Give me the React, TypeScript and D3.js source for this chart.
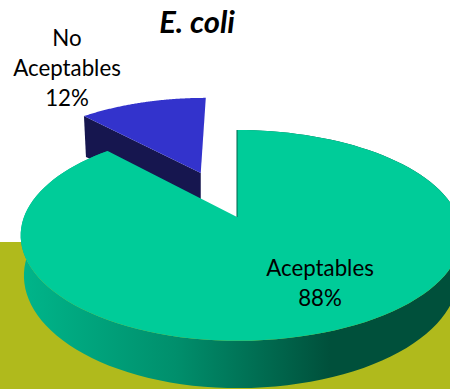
import React from "react";
import * as d3 from "d3";

const categories = ["Aceptables", "No Aceptables"];
const values = [88, 12];
const labelLines = [["Aceptables", "88%"], ["No", "Aceptables", "12%"]];
const explode = [0, 0.5];
const colors = { green: "#00CC99", blue: "#3333CC", navy: "#16164F", ground: "#B0BA1C" };

const W = 450, H = 389;
const CX = 237, CY = 217, R_LEFT = 213, R_RIGHT = 221, A = 64.2, K = -0.175, DEPTH = 39, SHRINK = 0.985;

// Perspective projection of the pie's plane onto the page.
function project(u: number, v: number, low = false): [number, number] {
  const d = 1 + K * v;
  const s = low ? SHRINK : 1;
  const r = u < 0 ? R_LEFT : R_RIGHT;
  const x = CX + ((r * u) / d) * s;
  const y = (A * v + CY) / d + (low ? DEPTH / d : 0);
  return [x, y];
}

const pie = d3.pie<number>().sort(null).startAngle(0).endAngle(2 * Math.PI);
const arcs = pie(values);
const line = d3.line();

function rim(a0: number, a1: number, e: number, low = false) {
  const mid = e ? (a0 + a1) / 2 : 0;
  const ox = e * Math.sin(mid), oy = -e * Math.cos(mid);
  const steps = d3.range(0, 121).map((i) => a0 + ((a1 - a0) * i) / 120);
  return {
    apex: project(ox, oy, low),
    pts: steps.map((t) => project(Math.sin(t) + ox, -Math.cos(t) + oy, low)),
  };
}

function Sector({ index }: { index: number }) {
  const a = arcs[index];
  const e = explode[index];
  const top = rim(a.startAngle, a.endAngle, e);
  const low = rim(a.startAngle, a.endAngle, e, true);
  const topPath = line([top.apex, ...top.pts]) + "Z";
  if (index === 0) {
    const wall = line([...top.pts, ...low.pts.slice().reverse()]) + "Z";
    return (
      <g>
        <path d={wall} fill="url(#wall)" />
        <path d={topPath} fill={colors.green} />
        <path d={line([top.apex, top.pts[0]]) as string} stroke="#00604A" strokeWidth={1} fill="none" />
      </g>
    );
  }
  const leftTop = top.pts[0];
  const leftLow: [number, number] = [leftTop[0] + 2, leftTop[1] + 41];
  const apexLow: [number, number] = [top.apex[0], top.apex[1] + 36];
  const face = line([top.apex, leftTop, leftLow, apexLow]) + "Z";
  return (
    <g>
      <path d={face} fill={colors.navy} />
      <path d={topPath} fill={colors.blue} />
    </g>
  );
}

function Label({ lines, x, y, step }: { lines: string[]; x: number; y: number; step: number }) {
  return (
    <text x={x} textAnchor="middle" fontFamily="Lato, 'Open Sans', sans-serif" fontSize={22.3} fill="#000">
      {lines.map((s, i) => (
        <tspan key={i} x={x} y={y + i * step}>{s}</tspan>
      ))}
    </text>
  );
}

export default function App() {
  return (
    <svg
      width={W}
      height={H}
      viewBox={`0 0 ${W} ${H}`}
      style={{ position: "absolute", left: 0, top: 0, background: "#fff" }}
    >
      <defs>
        <linearGradient id="wall" gradientUnits="userSpaceOnUse" x1={22} x2={330} y1={0} y2={0}>
          <stop offset="0" stopColor="#00B58A" />
          <stop offset="0.5" stopColor="#008F6C" />
          <stop offset="1" stopColor="#00503B" />
        </linearGradient>
      </defs>
      <rect x={0} y={242} width={W} height={H - 242} fill={colors.ground} />
      <Sector index={1} />
      <Sector index={0} />
      <text
        x={197}
        y={33}
        textAnchor="middle"
        fontFamily="Lato, 'Open Sans', sans-serif"
        fontSize={31}
        fontWeight={700}
        fontStyle="italic"
      >
        E. coli
      </text>
      <Label lines={labelLines[1]} x={67} y={46} step={30} />
      <Label lines={labelLines[0]} x={320} y={276} step={30} />
    </svg>
  );
}
